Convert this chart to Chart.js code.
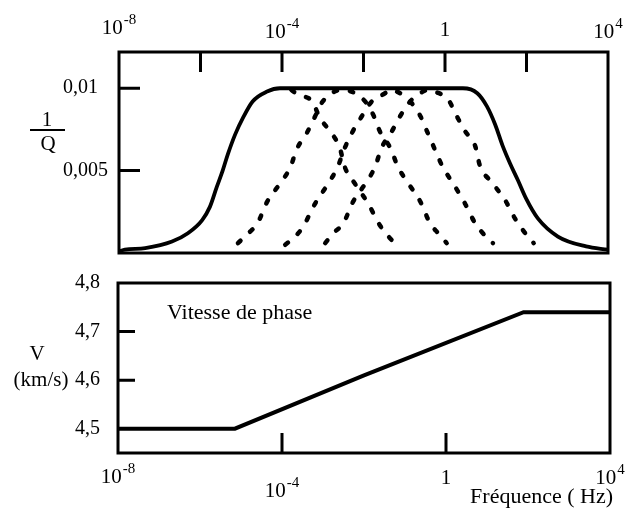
<!DOCTYPE html>
<html><head><meta charset="utf-8">
<script src="https://cdn.jsdelivr.net/npm/chart.js@4.4.1/dist/chart.umd.min.js"></script>
<style>
html,body{margin:0;padding:0;background:#fff;}
#wrap{position:relative;width:630px;height:515px;overflow:hidden;background:#fff;}
canvas{position:absolute;left:0;}
</style></head><body>
<div id="wrap">
<canvas id="cq" width="630" height="265" style="top:0px"></canvas>
<canvas id="cv" width="630" height="250" style="top:265px"></canvas>
</div>
<script>
const SERIF = "'Liberation Serif','Times New Roman','DejaVu Serif',serif";

// ---- tick values / labels ----
const xTickVals   = [1e-8, 1e-4, 1, 1e4];
const xTickLabels = ['10^-8', '10^-4', '1', '10^4'];
const qTickVals   = [0.005, 0.01];
const qTickLabels = ['0,005', '0,01'];
const vTickVals   = [4.5, 4.6, 4.7, 4.8];
const vTickLabels = ['4,5', '4,6', '4,7', '4,8'];
const topInnerTicks = [1e-6, 1e-4, 1e-2, 1, 1e2];
const bottomInnerTicks = [1e-4, 1];

// ---- 1/Q absorption band (solid) ----
const qBandFreq = [1e-8, 1.4e-8, 4.4e-8, 2.0e-7, 4.9e-7, 1.1e-6, 1.7e-6, 2.5e-6, 3.5e-6, 4.7e-6, 7.1e-6, 1.1e-5, 1.9e-5, 4.3e-5, 8.9e-5, 2.75, 6.2, 10.7, 17, 26, 40, 62, 98, 190, 590, 2900, 1e4];
const qBandVal  = [0.0001, 0.0002, 0.0003, 0.0007, 0.0012, 0.0020, 0.0028, 0.0040, 0.0050, 0.0060, 0.0072, 0.0082, 0.0092, 0.0098, 0.0100, 0.0100, 0.0097, 0.0089, 0.0078, 0.0065, 0.0054, 0.0044, 0.0033, 0.0021, 0.0010, 0.0004, 0.0002];

// ---- individual relaxation peaks (dashed) ----
const p0Freq = [1.7e-4, 2.5e-4, 5.5e-4, 8.5e-4, 1.5e-3, 2.6e-3, 3.5e-3, 6.2e-3, 1.3e-2, 2.5e-2, 3.8e-2, 6.3e-2];
const p0Val  = [0.0099, 0.0096, 0.0092, 0.0082, 0.0074, 0.0064, 0.0052, 0.0042, 0.0030, 0.0017, 0.0011, 0.0005];

const p1Freq = [8.3e-6, 1.5e-5, 2.5e-5, 4.3e-5, 9.5e-5, 1.6e-4, 2.3e-4, 4.1e-4, 6.5e-4, 1.0e-3, 3.0e-3, 1.1e-2, 1.8e-2, 2.5e-2, 4.5e-2, 7.1e-2, 0.12, 0.25, 0.43, 0.68, 1.1];
const p1Val  = [0.0006, 0.0012, 0.0018, 0.0031, 0.0043, 0.0052, 0.0063, 0.0073, 0.0083, 0.0092, 0.0099, 0.0092, 0.0083, 0.0074, 0.0064, 0.0052, 0.0043, 0.0031, 0.0018, 0.0012, 0.0006];

const p2Freq = [1.2e-4, 2.1e-4, 3.3e-4, 6.5e-4, 1.35e-3, 2.3e-3, 3.5e-3, 5.5e-3, 9.1e-3, 1.6e-2, 3.4e-2, 4.3e-2, 6.6e-2, 0.14, 0.25, 0.36, 0.56, 0.89, 1.6, 3.1, 5.5, 8.5, 15];
const p2Val  = [0.0005, 0.0010, 0.0016, 0.0030, 0.0042, 0.0052, 0.0064, 0.0074, 0.0083, 0.0092, 0.0097, 0.0099, 0.0098, 0.0092, 0.0083, 0.0074, 0.0063, 0.0052, 0.0042, 0.0030, 0.0018, 0.0012, 0.0006];

const p3Freq = [1.15e-3, 1.8e-3, 3.2e-3, 5.5e-3, 1.1e-2, 1.9e-2, 2.8e-2, 5.0e-2, 7.9e-2, 0.14, 0.29, 0.43, 0.56, 1.2, 1.95, 3.1, 5.5, 7.2, 14, 30, 52, 87, 150];
const p3Val  = [0.0006, 0.0012, 0.0018, 0.0031, 0.0042, 0.0052, 0.0064, 0.0074, 0.0083, 0.0092, 0.0098, 0.0099, 0.0098, 0.0093, 0.0083, 0.0074, 0.0065, 0.0053, 0.0043, 0.0032, 0.0021, 0.0013, 0.0006];

// ---- phase velocity ----
const vFreq = [1e-8, 7.1e-6, 1e-2, 78, 1e4];
const vVal  = [4.5, 4.5, 4.61, 4.74, 4.74];

const pts = (xs, ys) => xs.map((x, i) => ({x: x, y: ys[i]}));

const framePlugin = {
  id: 'frame',
  afterDraw(chart, args, o) {
    const {ctx, chartArea: a} = chart;
    const xs = chart.scales.x, ys = chart.scales.y;
    ctx.save();
    ctx.strokeStyle = '#000';
    ctx.lineWidth = o.tickWidth;
    ctx.beginPath();
    (o.xTicks || []).forEach(v => {
      const px = xs.getPixelForValue(v);
      if (o.xSide === 'top') { ctx.moveTo(px, a.top); ctx.lineTo(px, a.top + o.xTickLen); }
      else { ctx.moveTo(px, a.bottom); ctx.lineTo(px, a.bottom - o.xTickLen); }
    });
    (o.yTicks || []).forEach(v => {
      const py = ys.getPixelForValue(v);
      ctx.moveTo(a.left, py); ctx.lineTo(a.left + o.yTickLen, py);
    });
    ctx.stroke();
    ctx.lineWidth = o.lineWidth;
    ctx.strokeRect(a.left, a.top, a.right - a.left, a.bottom - a.top);
    ctx.restore();
  }
};

// x tick labels with true superscript exponents, placed by the x scale
const supLabelPlugin = {
  id: 'supLabels',
  afterDraw(chart, args, o) {
    const s = chart.scales.x, ctx = chart.ctx;
    ctx.save();
    ctx.fillStyle = '#000';
    ctx.textBaseline = 'alphabetic';
    ctx.textAlign = 'left';
    xTickVals.forEach((v, i) => {
      const parts = xTickLabels[i].split('^');
      const base = parts[0], exp = parts[1];
      const bl = o.baselines[i];
      ctx.font = o.baseSize + 'px ' + SERIF;
      const wb = ctx.measureText(base).width;
      ctx.font = o.expSize + 'px ' + SERIF;
      const we = exp ? ctx.measureText(exp).width + 1 : 0;
      const x0 = s.getPixelForValue(v) - (wb + we) / 2;
      ctx.font = o.baseSize + 'px ' + SERIF;
      ctx.fillText(base, x0, bl);
      if (exp) {
        ctx.font = o.expSize + 'px ' + SERIF;
        ctx.fillText(exp, x0 + wb + 1, bl - o.raise);
      }
    });
    ctx.restore();
  }
};

const textPlugin = {
  id: 'texts',
  afterDraw(chart, args, o) {
    const ctx = chart.ctx;
    ctx.save();
    ctx.fillStyle = '#000';
    ctx.strokeStyle = '#000';
    (o.items || []).forEach(t => {
      ctx.font = t.font;
      ctx.textAlign = t.align || 'left';
      ctx.textBaseline = t.baseline || 'middle';
      ctx.fillText(t.text, t.x, t.y);
    });
    (o.rules || []).forEach(r => {
      ctx.lineWidth = r.w;
      ctx.beginPath(); ctx.moveTo(r.x1, r.y); ctx.lineTo(r.x2, r.y); ctx.stroke();
    });
    ctx.restore();
  }
};

const tickFont = {family: SERIF, size: 20};
const dashed = (f, v) => ({
  data: pts(f, v), borderColor: '#000', borderWidth: 4.5, borderDash: [3.5, 13],
  borderCapStyle: 'round', pointRadius: 0, cubicInterpolationMode: 'monotone', fill: false
});

new Chart(document.getElementById('cq'), {
  type: 'line',
  data: {datasets: [
    {data: pts(qBandFreq, qBandVal), borderColor: '#000', borderWidth: 3.8, pointRadius: 0,
     cubicInterpolationMode: 'monotone', fill: false},
    dashed(p0Freq, p0Val), dashed(p1Freq, p1Val), dashed(p2Freq, p2Val), dashed(p3Freq, p3Val)
  ]},
  options: {
    responsive: false, animation: false, devicePixelRatio: 1,
    layout: {padding: {left: 63, right: 22, top: 0, bottom: 9}},
    plugins: {
      legend: {display: false}, tooltip: {enabled: false},
      frame: {lineWidth: 3, tickWidth: 3, xTicks: topInnerTicks, xSide: 'top', xTickLen: 20,
              yTicks: qTickVals, yTickLen: 21},
      supLabels: {baseSize: 21, expSize: 15, baselines: [34, 38, 36, 38], raise: 10},
      texts: {
        items: [
          {text: '1', x: 47, y: 120, align: 'center', font: '21px ' + SERIF},
          {text: 'Q', x: 48, y: 144, align: 'center', font: '21px ' + SERIF}
        ],
        rules: [{x1: 30, x2: 65, y: 130, w: 2.2}]
      }
    },
    scales: {
      x: {type: 'logarithmic', position: 'top', min: 1e-8, max: 1e4,
          afterBuildTicks: s => { s.ticks = xTickVals.map(v => ({value: v})); },
          afterFit: s => { s.height = 52; },
          grid: {display: false, drawTicks: false}, border: {display: false},
          ticks: {display: false}},
      y: {type: 'linear', min: 0, max: 0.0122,
          afterBuildTicks: s => { s.ticks = qTickVals.map(v => ({value: v})); },
          afterFit: s => { s.width = 56; },
          grid: {display: false, drawTicks: false}, border: {display: false},
          ticks: {crossAlign: 'far', padding: 0, color: '#000', font: tickFont,
                  callback: (v, i) => qTickLabels[i]}}
    }
  },
  plugins: [framePlugin, supLabelPlugin, textPlugin]
});

new Chart(document.getElementById('cv'), {
  type: 'line',
  data: {datasets: [
    {data: pts(vFreq, vVal), borderColor: '#000', borderWidth: 4, pointRadius: 0, tension: 0, fill: false}
  ]},
  options: {
    responsive: false, animation: false, devicePixelRatio: 1,
    layout: {padding: {left: 75, right: 20, top: 18, bottom: 0}},
    plugins: {
      legend: {display: false}, tooltip: {enabled: false},
      frame: {lineWidth: 3, tickWidth: 3, xTicks: bottomInnerTicks, xSide: 'bottom', xTickLen: 20,
              yTicks: [4.6, 4.7], yTickLen: 17},
      supLabels: {baseSize: 21, expSize: 15, baselines: [218, 232, 219, 219], raise: 10},
      texts: {
        items: [
          {text: 'V', x: 37, y: 89, align: 'center', font: '21px ' + SERIF},
          {text: '(km/s)', x: 41, y: 115, align: 'center', font: '21px ' + SERIF},
          {text: 'Vitesse de phase', x: 167, y: 48, align: 'left', font: '22px ' + SERIF},
          {text: 'Fréquence ( Hz)', x: 613, y: 238, align: 'right', baseline: 'alphabetic', font: '22px ' + SERIF}
        ]
      }
    },
    scales: {
      x: {type: 'logarithmic', position: 'bottom', min: 1e-8, max: 1e4,
          afterBuildTicks: s => { s.ticks = xTickVals.map(v => ({value: v})); },
          afterFit: s => { s.height = 62; },
          grid: {display: false, drawTicks: false}, border: {display: false},
          ticks: {display: false}},
      y: {type: 'linear', min: 4.45, max: 4.8,
          afterBuildTicks: s => { s.ticks = vTickVals.map(v => ({value: v})); },
          afterFit: s => { s.width = 43; },
          grid: {display: false, drawTicks: false}, border: {display: false},
          ticks: {crossAlign: 'far', padding: 0, color: '#000', font: tickFont,
                  callback: (v, i) => vTickLabels[i]}}
    }
  },
  plugins: [framePlugin, supLabelPlugin, textPlugin]
});
</script>
</body></html>
